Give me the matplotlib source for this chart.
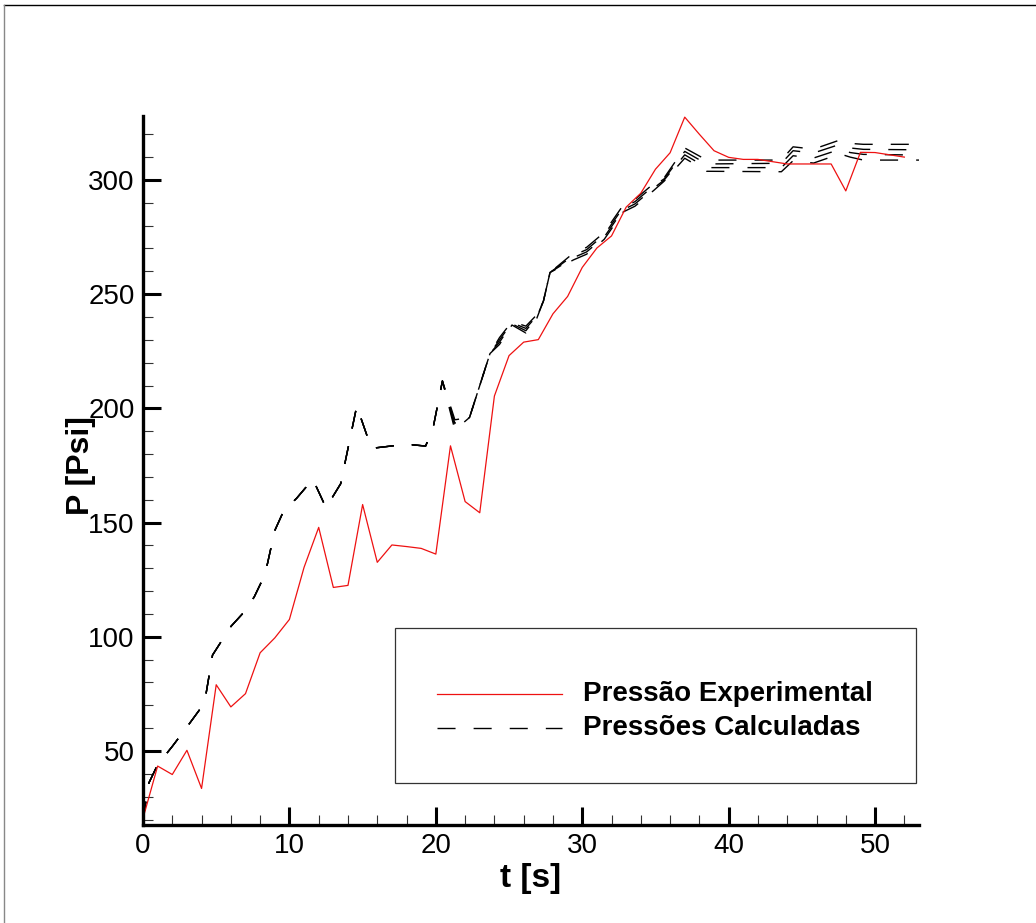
import matplotlib
matplotlib.use("Agg")
import matplotlib.pyplot as plt
from matplotlib.lines import Line2D
from matplotlib.patches import Rectangle
from matplotlib.ticker import MultipleLocator

plt.rcParams['font.family'] = ['Liberation Sans', 'DejaVu Sans']
plt.rcParams['lines.scale_dashes'] = False

# ---- data ----
exp_t = list(range(0, 53))
exp_p = [20.5, 43.4, 39.7, 50.3, 33.6, 79.0, 69.3, 75.1, 93.0, 99.5,
         107.6, 130.4, 147.9, 121.6, 122.5, 157.9, 132.6, 140.2, 139.5, 138.7,
         136.2, 183.6, 159.2, 154.3, 205.4, 223.1, 229.0, 230.1, 241.4, 249.0,
         261.7, 270.2, 275.5, 288.1, 294.2, 304.7, 311.9, 327.5, 320.0, 312.8,
         309.9, 309.0, 309.0, 308.0, 307.0, 307.0, 307.0, 307.0, 295.2, 312.1,
         312.0, 311.0, 310.0]

calc_t = [0, 0.4, 1, 2, 3, 4.2, 4.75, 5.4, 6, 7, 7.6, 8.2, 8.5, 9.0, 9.6,
          10.5, 11.6, 12.5, 13.5, 14.6, 15.6, 18.0, 19.3, 19.8, 20.45, 21.3,
          22.3, 23.7, 24.35, 25.2, 26.15, 26.9, 27.35, 27.8, 29.4, 30.3, 31.5,
          32.8, 33.6, 34.9, 35.6, 37.0, 38.5, 43.6, 44.4, 45.8, 47.6, 48.3,
          49.2, 53.0]

calc_early = [20, 36, 44, 52, 60.5, 71, 92, 98.5, 104.5, 111.5, 117.5, 125.5,
              132, 146.5, 155, 160.7, 169, 156.5, 167, 201, 182.5, 184.3, 183.5,
              191, 212]

calc_late_1 = [195, 196, 224, 231, 238, 236, 241, 247, 259.5, 268, 270.5, 277,
               289, 291.5, 298.5, 301, 314, 308.7, 308.7, 314.5, 313.5, 317.5,
               316, 315.6, 315.6]
calc_late_2 = [193.5, 196, 224, 230, 237.5, 235, 240.5, 247, 259.5, 267, 269.5,
               276, 288, 290.5, 297.5, 300.5, 312.5, 307.0, 307.3, 312.8, 311.8,
               315.6, 314, 313.4, 313.2]
calc_late_3 = [192, 196, 224, 229, 237, 234, 240, 247, 259.5, 266, 268.5, 275,
               287, 289.5, 296.5, 300, 311, 305.4, 305.4, 310.6, 309.6, 313.4,
               312, 311.2, 310.9]
calc_late_4 = [190.5, 196, 224, 228, 236.5, 233, 239.5, 247, 259.5, 265, 267.5,
               274, 286, 288.5, 295.5, 299.5, 309.5, 303.8, 303.6, 308.4, 307.4,
               311.4, 310, 308.7, 308.7]

calc_series = [calc_early + calc_late_1, calc_early + calc_late_2,
               calc_early + calc_late_3, calc_early + calc_late_4]

x_ticks = [0, 10, 20, 30, 40, 50]
y_ticks = [50, 100, 150, 200, 250, 300]

legend_labels = ["Pressão Experimental", "Pressões Calculadas"]

# ---- figure ----
W, H = 1036, 923
fig = plt.figure(figsize=(W / 100, H / 100), dpi=100)
fig.patch.set_facecolor('white')


def fx(px):
    return px / W


def fy(py):
    return 1 - py / H


ax = fig.add_axes([fx(143), fy(825), fx(919) - fx(143), fy(116) - fy(825)])

for ys in calc_series:
    ax.plot(calc_t, ys, color='black', lw=1.0, dashes=(13, 13))
ax.plot(exp_t, exp_p, color='#ee1111', lw=0.9)

ax.set_xlim(0, 53)
ax.set_ylim(17.6, 328)

for s in ['top', 'right']:
    ax.spines[s].set_visible(False)
for s in ['left', 'bottom']:
    ax.spines[s].set_linewidth(2.4)

ax.xaxis.set_major_locator(MultipleLocator(10))
ax.xaxis.set_minor_locator(MultipleLocator(2))
ax.yaxis.set_major_locator(MultipleLocator(50))
ax.yaxis.set_minor_locator(MultipleLocator(10))
ax.set_xticks(x_ticks)
ax.set_yticks(y_ticks)
ax.tick_params(which='major', direction='in', length=13, width=2.2,
               labelsize=20, color='black')
ax.tick_params(which='minor', direction='in', length=7.2, width=0.8,
               color='#333333')
ax.tick_params(axis='y', which='major', pad=6)
ax.tick_params(axis='x', which='major', pad=6)

fig.text(fx(531), fy(878), 't [s]', fontsize=24, fontweight='bold',
         ha='center', va='center')
fig.text(fx(81), fy(466), 'P [Psi]', fontsize=23, fontweight='bold',
         ha='center', va='center', rotation=90)

# legend box
fig.add_artist(Rectangle((fx(395), fy(783)), fx(916) - fx(395), fy(628) - fy(783),
                         transform=fig.transFigure, facecolor='white',
                         edgecolor='#333333', lw=0.9))
fig.add_artist(Line2D([fx(437), fx(562)], [fy(694), fy(694)],
                      transform=fig.transFigure, color='#ee1111', lw=0.9))
fig.add_artist(Line2D([fx(437), fx(562)], [fy(728), fy(728)],
                      transform=fig.transFigure, color='black', lw=1.0,
                      dashes=(13, 13)))
fig.text(fx(583), fy(694), legend_labels[0], fontsize=20, fontweight='bold',
         ha='left', va='center')
fig.text(fx(583), fy(728), legend_labels[1], fontsize=20, fontweight='bold',
         ha='left', va='center')

# outer frame lines (top and left)
fig.add_artist(Line2D([fx(4), 1], [fy(5), fy(5)], transform=fig.transFigure,
                      color='black', lw=1.0))
fig.add_artist(Line2D([fx(4), fx(4)], [0, fy(5)], transform=fig.transFigure,
                      color='#888888', lw=1.0))

fig.savefig('out.png', dpi=100)
